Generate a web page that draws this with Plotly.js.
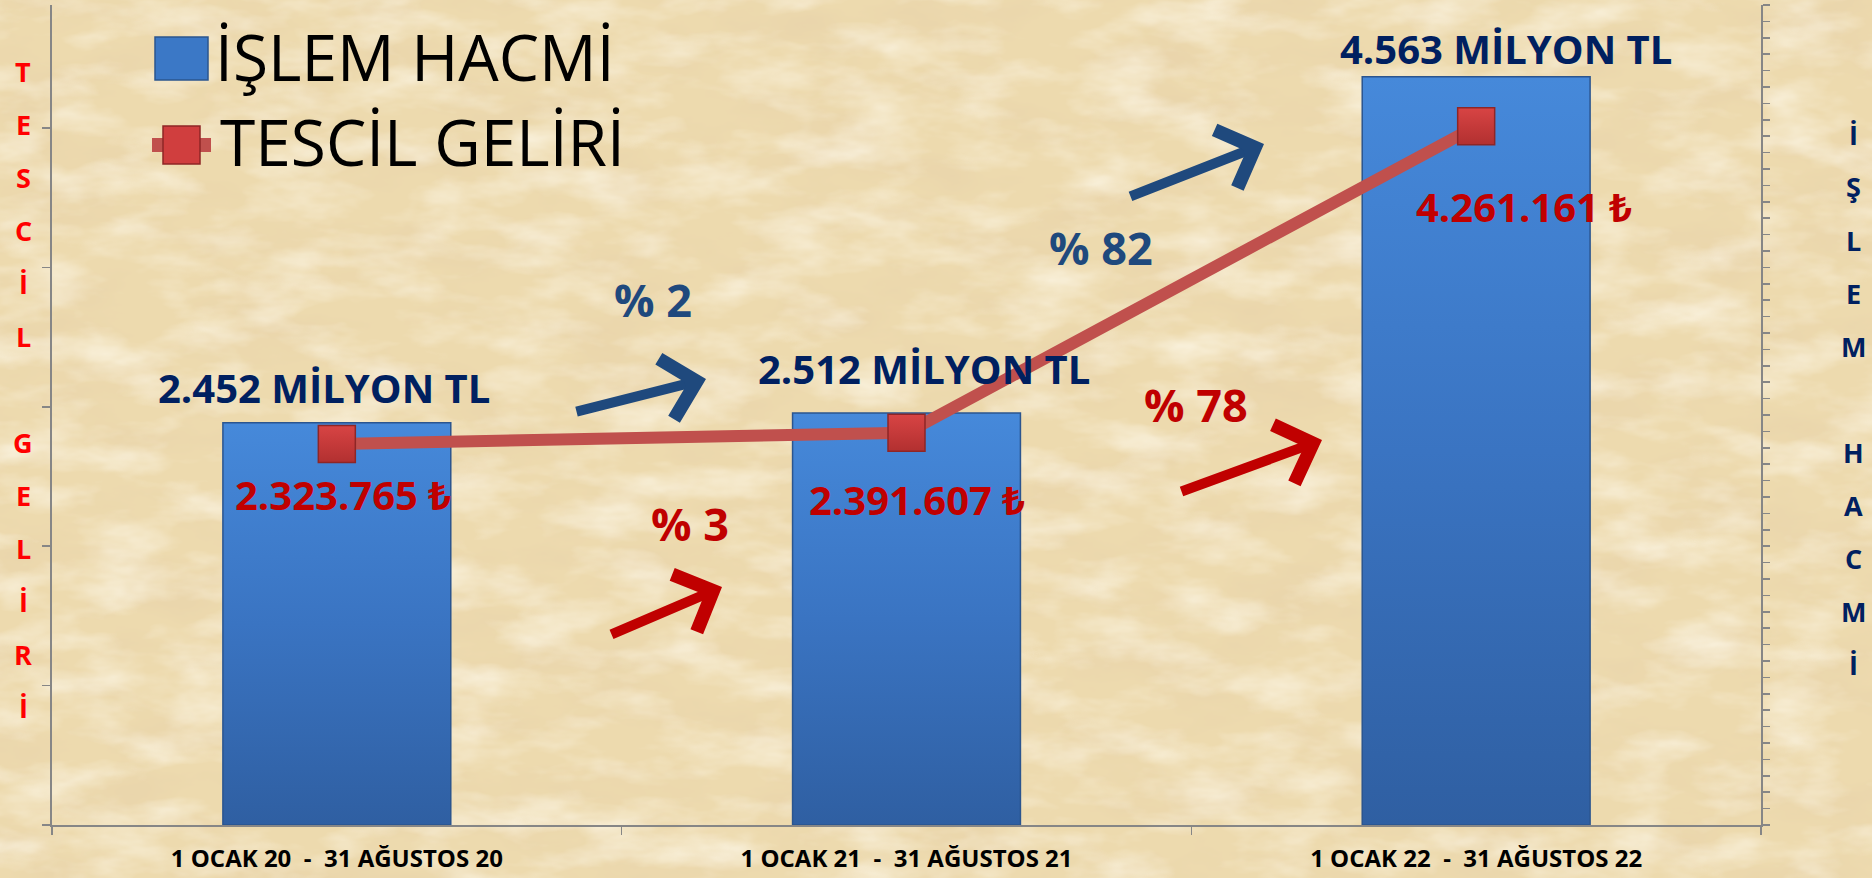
<!DOCTYPE html>
<html>
<head>
<meta charset="utf-8">
<script src="https://cdn.plot.ly/plotly-3.0.1.min.js"></script>
<style>
  html, body { margin:0; padding:0; width:1872px; height:878px; overflow:hidden; background:#efdeb3; }
  #bg { position:absolute; left:0; top:0; }
  #chart { position:absolute; left:0; top:0; width:1872px; height:878px; }
</style>
</head>
<body>
<svg id="bg" width="1872" height="878" xmlns="http://www.w3.org/2000/svg">
  <defs>
    <filter id="dark" x="0" y="0" width="100%" height="100%">
      <feTurbulence type="fractalNoise" baseFrequency="0.009 0.022" numOctaves="5" seed="7"/>
      <feColorMatrix type="matrix" values="0 0 0 0 0.80  0 0 0 0 0.64  0 0 0 0 0.40  1.3 0 0 0 -0.56"/>
    </filter>
    <filter id="light" x="0" y="0" width="100%" height="100%">
      <feTurbulence type="fractalNoise" baseFrequency="0.012 0.03" numOctaves="4" seed="21"/>
      <feColorMatrix type="matrix" values="0 0 0 0 1  0 0 0 0 0.97  0 0 0 0 0.88  0 1.3 0 0 -0.55"/>
    </filter>
  </defs>
  <rect width="1872" height="878" fill="#eddaae"/>
  <rect width="1872" height="878" filter="url(#dark)"/>
  <rect width="1872" height="878" filter="url(#light)"/>
</svg>
<div id="chart"></div>
<script>
// ---- data ----
const categories = [
  '1 OCAK 20\u00a0\u00a0-\u00a0\u00a031 AĞUSTOS 20',
  '1 OCAK 21\u00a0\u00a0-\u00a0\u00a031 AĞUSTOS 21',
  '1 OCAK 22\u00a0\u00a0-\u00a0\u00a031 AĞUSTOS 22'
];
const islemHacmi = [2452, 2512, 4563];            // milyon TL
const tescilGeliri = [2323765, 2391607, 4261161]; // TL
const seriesNames = ['İŞLEM HACMİ', 'TESCİL GELİRİ'];
const leftTitle = 'TESCİL GELİRİ';
const rightTitle = 'İŞLEM HACMİ';

// ---- helpers ----
const W = 1872, H = 878, ML = 52, MR = 111, MT = 5, MB = 53;
const PW = W - ML - MR, PH = H - MT - MB;
const px = x => (x - ML) / PW;
const py = y => (H - MB - y) / PH;
const fmt = n => String(n).replace(/\B(?=(\d{3})+(?!\d))/g, '.');
const pct = (a, b) => '% ' + Math.round((b - a) / a * 100);

const FONT = 'Open Sans, Noto Sans, DejaVu Sans, sans-serif';
const NAVY = '#002060', DBLUE = '#1f497d', DRED = '#c00000';

const traces = [
  {
    type: 'bar', name: seriesNames[0], x: categories, y: islemHacmi, yaxis: 'y',
    marker: { color: '#3b78c6', line: { color: '#2b558f', width: 1.5 } },
    hoverinfo: 'skip'
  },
  {
    type: 'scatter', mode: 'lines+markers', name: seriesNames[1], x: categories, y: tescilGeliri, yaxis: 'y2',
    line: { color: '#c0504d', width: 12 },
    marker: { symbol: 'square', size: 37, color: '#d84444', line: { color: '#8e2626', width: 1.5 },
      gradient: { type: 'vertical', color: '#b23030' } },
    hoverinfo: 'skip'
  }
];

const annotations = [];
const C = { xanchor: 'center', yanchor: 'middle', showarrow: false };
// bar labels
const barShift = [[-13, 35], [17, 45], [30, 28]];
islemHacmi.forEach((v, i) => annotations.push(Object.assign({}, C, {
  x: categories[i], y: v, xref: 'x', yref: 'y',
  text: fmt(v) + ' MİLYON TL', xshift: barShift[i][0], yshift: barShift[i][1],
  font: { family: FONT, size: 40, color: NAVY, weight: 700 }
})));
// line labels
const lineShift = [[6, -51], [10, -67], [48, -80]];
tescilGeliri.forEach((v, i) => annotations.push(Object.assign({}, C, {
  x: categories[i], y: v, xref: 'x', yref: 'y2',
  text: fmt(v) + ' ₺', xshift: lineShift[i][0], yshift: lineShift[i][1],
  font: { family: FONT, size: 40, color: DRED, weight: 700 }
})));
// growth labels
const growth = [
  { t: pct(islemHacmi[0], islemHacmi[1]), c: DBLUE, p: [653, 299] },
  { t: pct(islemHacmi[1], islemHacmi[2]), c: DBLUE, p: [1101, 247] },
  { t: pct(tescilGeliri[0], tescilGeliri[1]), c: DRED, p: [690, 523] },
  { t: pct(tescilGeliri[1], tescilGeliri[2]), c: DRED, p: [1196, 404] }
];
growth.forEach(g => annotations.push(Object.assign({}, C, {
  x: px(g.p[0]), y: py(g.p[1]), xref: 'paper', yref: 'paper',
  text: g.t, font: { family: FONT, size: 45, color: g.c, weight: 700 }
})));
// arrows
const arrows = [
  { tail: [575, 412], tip: [706, 379], c: DBLUE },
  { tail: [1129, 197], tip: [1264, 144], c: DBLUE },
  { tail: [610, 635], tip: [722, 587], c: DRED },
  { tail: [1180, 492], tip: [1322, 440], c: DRED }
];
arrows.forEach(a => annotations.push({
  x: px(a.tip[0]), y: py(a.tip[1]), xref: 'paper', yref: 'paper',
  ax: a.tail[0] - a.tip[0], ay: a.tail[1] - a.tip[1], text: '',
  showarrow: true, arrowhead: 4, arrowsize: 1.2, arrowwidth: 10, arrowcolor: a.c
}));
// vertical axis titles (stacked letters)
Array.from(leftTitle).forEach((ch, i) => {
  if (ch === ' ') return;
  annotations.push(Object.assign({}, C, { x: px(23), y: py(71.5 + i * 53), xref: 'paper', yref: 'paper',
    text: ch, font: { family: FONT, size: 27, color: '#ff0000', weight: 700 } }));
});
Array.from(rightTitle).forEach((ch, i) => {
  if (ch === ' ') return;
  annotations.push(Object.assign({}, C, { x: px(1853), y: py(134 + i * 53), xref: 'paper', yref: 'paper',
    text: ch, font: { family: FONT, size: 27, color: NAVY, weight: 700 } }));
});
// legend texts
annotations.push(Object.assign({}, C, { x: px(213), y: py(56), xref: 'paper', yref: 'paper', xanchor: 'left',
  text: seriesNames[0], font: { family: FONT, size: 64, color: '#000' } }));
annotations.push(Object.assign({}, C, { x: px(218), y: py(141), xref: 'paper', yref: 'paper', xanchor: 'left',
  text: seriesNames[1], font: { family: FONT, size: 64, color: '#000' } }));

const shapes = [
  { type: 'rect', xref: 'paper', yref: 'paper', x0: px(155), x1: px(208), y0: py(80), y1: py(37),
    fillcolor: '#3b78c6', line: { color: '#2b558f', width: 1.5 } },
  { type: 'line', xref: 'paper', yref: 'paper', x0: px(152), x1: px(211), y0: py(145), y1: py(145),
    line: { color: '#c0504d', width: 14 } },
  { type: 'rect', xref: 'paper', yref: 'paper', x0: px(163), x1: px(200), y0: py(164), y1: py(126),
    fillcolor: '#d03e3e', line: { color: '#8e2626', width: 1.5 } }
];

const axisCommon = { showgrid: false, zeroline: false, showline: true, linecolor: '#868686', linewidth: 2,
  ticks: 'outside', tickcolor: '#868686', tickwidth: 1.5 };

const layout = {
  width: W, height: H,
  margin: { l: ML, r: MR, t: MT, b: MB },
  paper_bgcolor: 'rgba(0,0,0,0)', plot_bgcolor: 'rgba(0,0,0,0)',
  showlegend: false, bargap: 0.6,
  xaxis: Object.assign({}, axisCommon, { type: 'category', tickson: 'boundaries', ticklen: 8,
    tickfont: { family: FONT, size: 24, color: '#000', weight: 700 }, ticklabelstandoff: 11 }),
  yaxis: Object.assign({}, axisCommon, { range: [0, 5000], side: 'right', dtick: 100, tick0: 0, ticklen: 7,
    showticklabels: false }),
  yaxis2: Object.assign({}, axisCommon, { range: [0, 5000000], side: 'left', overlaying: 'y', dtick: 850000, tick0: 0,
    ticklen: 8, showticklabels: false }),
  annotations: annotations,
  shapes: shapes
};

Plotly.newPlot('chart', traces, layout, { staticPlot: true, displayModeBar: false }).then(gd => {
  const NS = 'http://www.w3.org/2000/svg';
  const svg = gd.querySelector('svg.main-svg');
  let defs = svg.querySelector('defs');
  if (!defs) { defs = document.createElementNS(NS, 'defs'); svg.insertBefore(defs, svg.firstChild); }
  const g = document.createElementNS(NS, 'linearGradient');
  g.setAttribute('id', 'barGrad'); g.setAttribute('x1', '0'); g.setAttribute('y1', '0');
  g.setAttribute('x2', '0'); g.setAttribute('y2', '1');
  [['0', '#4689da'], ['0.5', '#3a74c2'], ['1', '#2f5fa2']].forEach(s => {
    const st = document.createElementNS(NS, 'stop');
    st.setAttribute('offset', s[0]); st.setAttribute('stop-color', s[1]); g.appendChild(st);
  });
  defs.appendChild(g);
  gd.querySelectorAll('.barlayer .point path').forEach(p => { p.style.fill = 'url(#barGrad)'; });
});
</script>
</body>
</html>
